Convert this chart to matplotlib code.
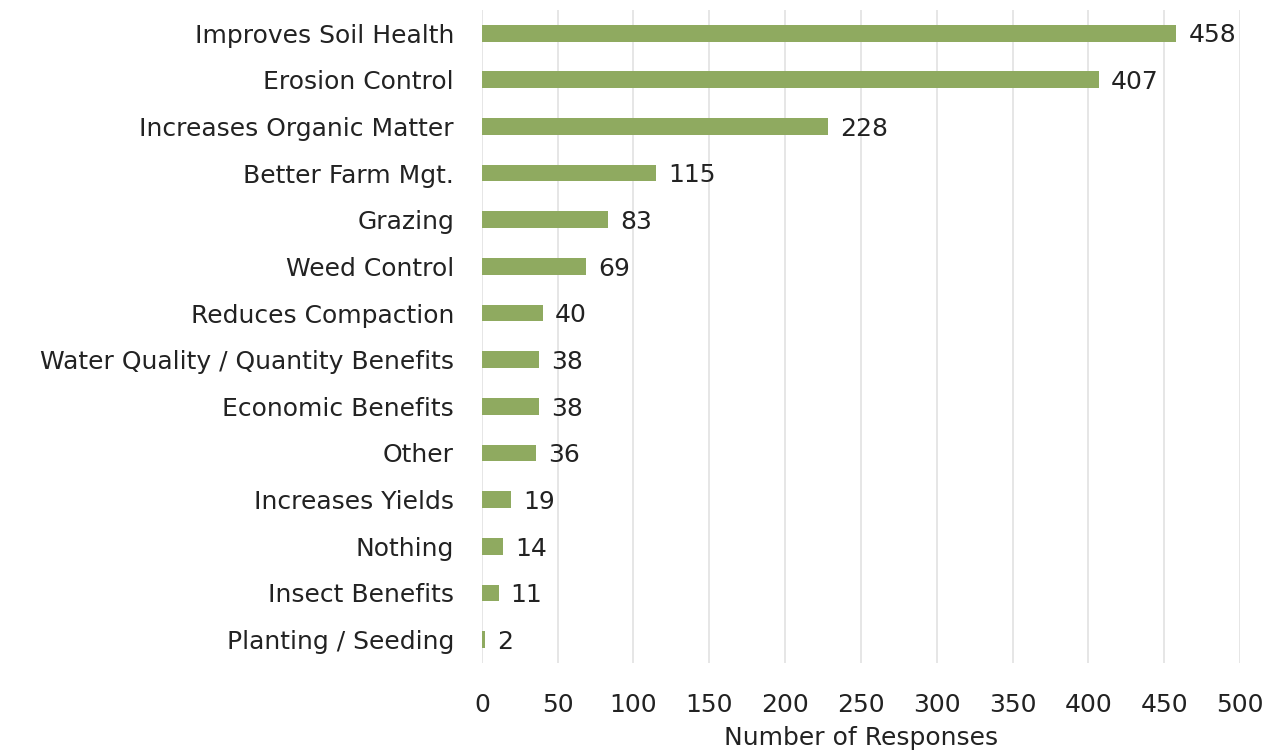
import matplotlib
matplotlib.use("Agg")
import matplotlib.pyplot as plt

# Responses per benefit (top to bottom as shown)
categories = [
    "Improves Soil Health", "Erosion Control", "Increases Organic Matter",
    "Better Farm Mgt.", "Grazing", "Weed Control", "Reduces Compaction",
    "Water Quality / Quantity Benefits", "Economic Benefits", "Other",
    "Increases Yields", "Nothing", "Insect Benefits", "Planting / Seeding",
]
responses = [458, 407, 228, 115, 83, 69, 40, 38, 38, 36, 19, 14, 11, 2]
xticks = list(range(0, 501, 50))

plt.rcParams['font.family'] = ['DejaVu Sans']
fs = 18

fig = plt.figure(figsize=(12.68, 7.55), dpi=100)
ax = fig.add_axes([0.380, 0.122, 0.598, 0.865])

ypos = list(range(len(categories)))
ax.barh(ypos, responses, height=0.36, color='#8faa60', zorder=3)
for y, v in zip(ypos, responses):
    ax.text(v + 8, y + 0.05, str(v), va='center', ha='left', fontsize=fs, color='#222222')

ax.set_yticks(ypos)
ax.set_yticklabels(categories, fontsize=fs, color='#222222')
ax.set_ylim(len(categories) - 0.5, -0.5)
ax.set_xlim(0, 500)
ax.set_xticks(xticks)
ax.set_xticklabels([str(t) for t in xticks], fontsize=fs, color='#222222')
ax.set_xlabel("Number of Responses", fontsize=fs, color='#222222', labelpad=6)

ax.grid(axis='x', color='#e2e2e2', linewidth=1.2, zorder=0)
for s in ax.spines.values():
    s.set_visible(False)
ax.tick_params(axis='y', length=0, pad=20)
ax.tick_params(axis='x', length=0, pad=22)

fig.savefig("out.png", dpi=100)
